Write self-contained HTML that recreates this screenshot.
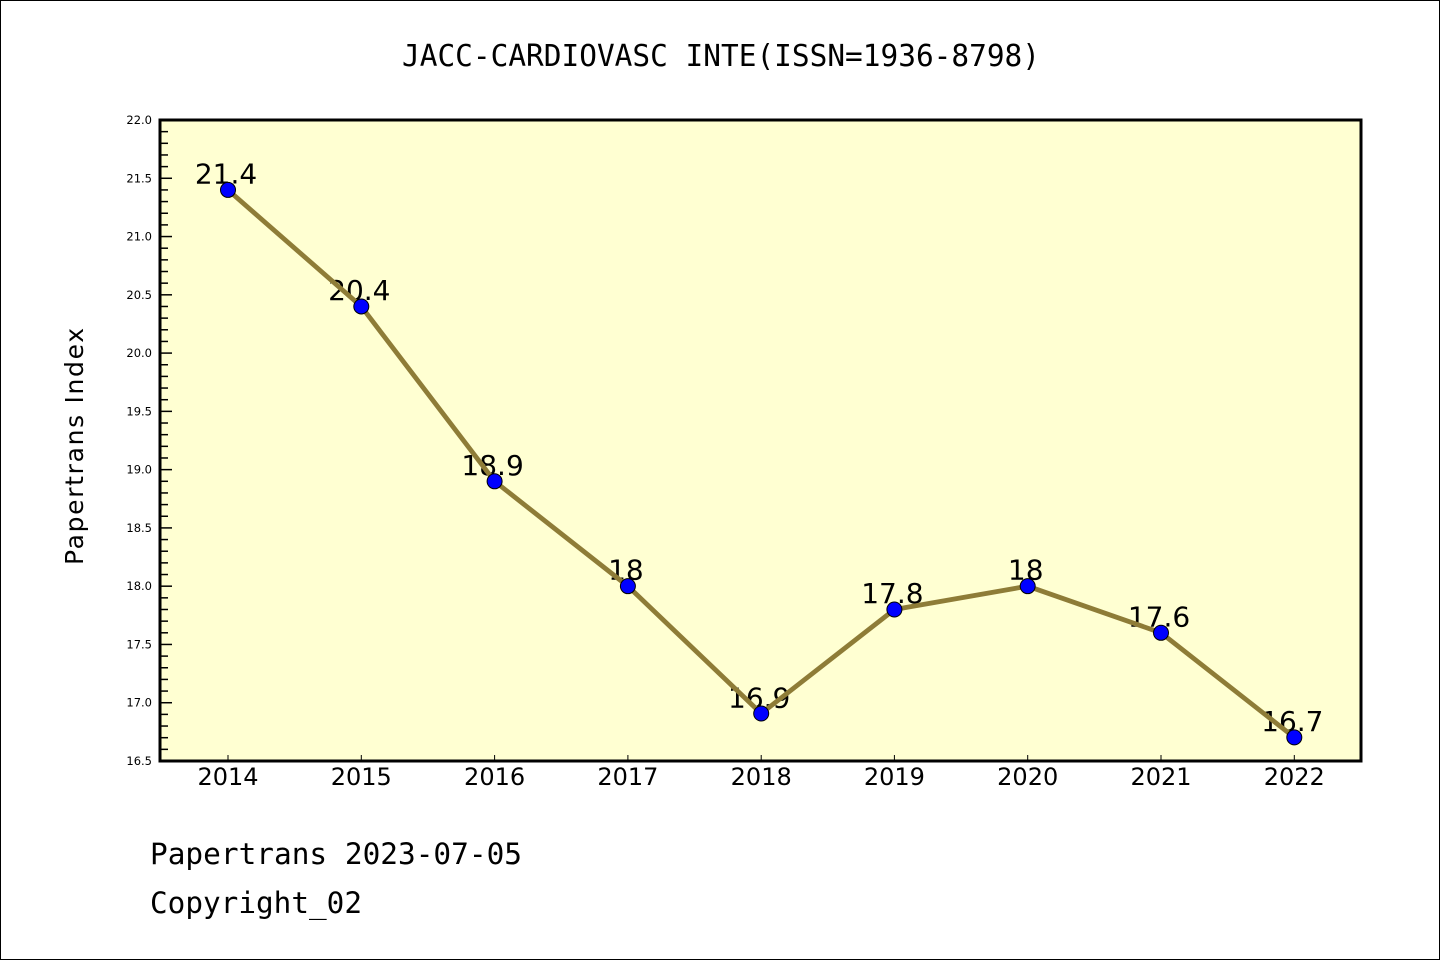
<!DOCTYPE html>
<html>
<head>
<meta charset="utf-8">
<style>
  html, body { margin: 0; padding: 0; background: #ffffff; }
  svg { display: block; }
</style>
</head>
<body>
<svg width="1440" height="960" viewBox="0 0 1440 960" xmlns="http://www.w3.org/2000/svg">
  <rect x="0.5" y="0.5" width="1439" height="959" fill="#ffffff" stroke="#000000" stroke-width="1"/>

  <!-- Title -->
  <text x="402" y="66" font-family="'DejaVu Sans Mono', 'Liberation Mono', monospace" font-size="30" fill="#000" textLength="638" lengthAdjust="spacingAndGlyphs">JACC-CARDIOVASC INTE(ISSN=1936-8798)</text>

  <!-- Plot area -->
  <rect x="160" y="120" width="1201" height="641" fill="#ffffd2"/>

  <!-- Y ticks -->
  <g stroke="#000" stroke-width="1.5">
    <line x1="160" y1="120.0" x2="172" y2="120.0"/><line x1="160" y1="131.65" x2="168" y2="131.65"/><line x1="160" y1="143.31" x2="168" y2="143.31"/><line x1="160" y1="154.96" x2="168" y2="154.96"/><line x1="160" y1="166.62" x2="168" y2="166.62"/>
    <line x1="160" y1="178.27" x2="172" y2="178.27"/><line x1="160" y1="189.93" x2="168" y2="189.93"/><line x1="160" y1="201.58" x2="168" y2="201.58"/><line x1="160" y1="213.24" x2="168" y2="213.24"/><line x1="160" y1="224.89" x2="168" y2="224.89"/>
    <line x1="160" y1="236.55" x2="172" y2="236.55"/><line x1="160" y1="248.2" x2="168" y2="248.2"/><line x1="160" y1="259.85" x2="168" y2="259.85"/><line x1="160" y1="271.51" x2="168" y2="271.51"/><line x1="160" y1="283.16" x2="168" y2="283.16"/>
    <line x1="160" y1="294.82" x2="172" y2="294.82"/><line x1="160" y1="306.47" x2="168" y2="306.47"/><line x1="160" y1="318.13" x2="168" y2="318.13"/><line x1="160" y1="329.78" x2="168" y2="329.78"/><line x1="160" y1="341.44" x2="168" y2="341.44"/>
    <line x1="160" y1="353.09" x2="172" y2="353.09"/><line x1="160" y1="364.75" x2="168" y2="364.75"/><line x1="160" y1="376.4" x2="168" y2="376.4"/><line x1="160" y1="388.05" x2="168" y2="388.05"/><line x1="160" y1="399.71" x2="168" y2="399.71"/>
    <line x1="160" y1="411.36" x2="172" y2="411.36"/><line x1="160" y1="423.02" x2="168" y2="423.02"/><line x1="160" y1="434.67" x2="168" y2="434.67"/><line x1="160" y1="446.33" x2="168" y2="446.33"/><line x1="160" y1="457.98" x2="168" y2="457.98"/>
    <line x1="160" y1="469.64" x2="172" y2="469.64"/><line x1="160" y1="481.29" x2="168" y2="481.29"/><line x1="160" y1="492.95" x2="168" y2="492.95"/><line x1="160" y1="504.6" x2="168" y2="504.6"/><line x1="160" y1="516.25" x2="168" y2="516.25"/>
    <line x1="160" y1="527.91" x2="172" y2="527.91"/><line x1="160" y1="539.56" x2="168" y2="539.56"/><line x1="160" y1="551.22" x2="168" y2="551.22"/><line x1="160" y1="562.87" x2="168" y2="562.87"/><line x1="160" y1="574.53" x2="168" y2="574.53"/>
    <line x1="160" y1="586.18" x2="172" y2="586.18"/><line x1="160" y1="597.84" x2="168" y2="597.84"/><line x1="160" y1="609.49" x2="168" y2="609.49"/><line x1="160" y1="621.15" x2="168" y2="621.15"/><line x1="160" y1="632.8" x2="168" y2="632.8"/>
    <line x1="160" y1="644.45" x2="172" y2="644.45"/><line x1="160" y1="656.11" x2="168" y2="656.11"/><line x1="160" y1="667.76" x2="168" y2="667.76"/><line x1="160" y1="679.42" x2="168" y2="679.42"/><line x1="160" y1="691.07" x2="168" y2="691.07"/>
    <line x1="160" y1="702.73" x2="172" y2="702.73"/><line x1="160" y1="714.38" x2="168" y2="714.38"/><line x1="160" y1="726.04" x2="168" y2="726.04"/><line x1="160" y1="737.69" x2="168" y2="737.69"/><line x1="160" y1="749.35" x2="168" y2="749.35"/>
  </g>

  <!-- X ticks -->
  <g stroke="#000" stroke-width="1">
    <line x1="228" y1="761" x2="228" y2="755"/>
    <line x1="361.3" y1="761" x2="361.3" y2="755"/>
    <line x1="494.6" y1="761" x2="494.6" y2="755"/>
    <line x1="627.9" y1="761" x2="627.9" y2="755"/>
    <line x1="761.2" y1="761" x2="761.2" y2="755"/>
    <line x1="894.4" y1="761" x2="894.4" y2="755"/>
    <line x1="1027.7" y1="761" x2="1027.7" y2="755"/>
    <line x1="1161" y1="761" x2="1161" y2="755"/>
    <line x1="1294.3" y1="761" x2="1294.3" y2="755"/>
  </g>

  <!-- Y tick labels -->
  <g font-family="'DejaVu Sans', 'Liberation Sans', sans-serif" font-size="11.5" fill="#000" text-anchor="end" dominant-baseline="central">
    <text x="152" y="120">22.0</text>
    <text x="152" y="178.27">21.5</text>
    <text x="152" y="236.55">21.0</text>
    <text x="152" y="294.82">20.5</text>
    <text x="152" y="353.09">20.0</text>
    <text x="152" y="411.36">19.5</text>
    <text x="152" y="469.64">19.0</text>
    <text x="152" y="527.91">18.5</text>
    <text x="152" y="586.18">18.0</text>
    <text x="152" y="644.45">17.5</text>
    <text x="152" y="702.73">17.0</text>
    <text x="152" y="761">16.5</text>
  </g>

  <!-- X tick labels -->
  <g font-family="'DejaVu Sans', 'Liberation Sans', sans-serif" font-size="24" fill="#000" text-anchor="middle">
    <text x="228" y="785">2014</text>
    <text x="361.3" y="785">2015</text>
    <text x="494.6" y="785">2016</text>
    <text x="627.9" y="785">2017</text>
    <text x="761.2" y="785">2018</text>
    <text x="894.4" y="785">2019</text>
    <text x="1027.7" y="785">2020</text>
    <text x="1161" y="785">2021</text>
    <text x="1294.3" y="785">2022</text>
  </g>

  <!-- Data labels -->
  <g font-family="'DejaVu Sans', 'Liberation Sans', sans-serif" font-size="28" fill="#000" text-anchor="middle">
    <text x="226" y="183.4">21.4</text>
    <text x="359.3" y="300">20.4</text>
    <text x="492.6" y="474.8">18.9</text>
    <text x="625.9" y="579.7">18</text>
    <text x="759.2" y="707.4">16.9</text>
    <text x="892.4" y="602.8">17.8</text>
    <text x="1025.7" y="579.7">18</text>
    <text x="1159" y="626.4">17.6</text>
    <text x="1292.3" y="731.2">16.7</text>
  </g>

  <!-- Series line -->
  <polyline fill="none" stroke="#8e7c37" stroke-width="4.8" stroke-linejoin="round"
    points="228,189.93 361.3,306.47 494.6,481.29 627.9,586.18 761.2,713.5 894.4,609.49 1027.7,586.18 1161,632.8 1294.3,737.4"/>

  <!-- Markers -->
  <g fill="#0000ff" stroke="#000" stroke-width="1">
    <circle cx="228" cy="189.93" r="7.5"/>
    <circle cx="361.3" cy="306.47" r="7.5"/>
    <circle cx="494.6" cy="481.29" r="7.5"/>
    <circle cx="627.9" cy="586.18" r="7.5"/>
    <circle cx="761.2" cy="713.5" r="7.5"/>
    <circle cx="894.4" cy="609.49" r="7.5"/>
    <circle cx="1027.7" cy="586.18" r="7.5"/>
    <circle cx="1161" cy="632.8" r="7.5"/>
    <circle cx="1294.3" cy="737.4" r="7.5"/>
  </g>

  <!-- Plot frame -->
  <rect x="160" y="120" width="1201" height="641" fill="none" stroke="#000" stroke-width="3"/>

  <!-- Y axis label -->
  <text transform="translate(83,446.5) rotate(-90)" x="0" y="0" text-anchor="middle" font-family="'DejaVu Sans', 'Liberation Sans', sans-serif" font-size="25" fill="#000" textLength="237" lengthAdjust="spacing">Papertrans Index</text>

  <!-- Footer -->
  <text x="150" y="864" font-family="'DejaVu Sans Mono', 'Liberation Mono', monospace" font-size="29" fill="#000" textLength="372" lengthAdjust="spacingAndGlyphs">Papertrans 2023-07-05</text>
  <text x="150" y="913" font-family="'DejaVu Sans Mono', 'Liberation Mono', monospace" font-size="29" fill="#000" textLength="212" lengthAdjust="spacingAndGlyphs">Copyright_02</text>
</svg>
</body>
</html>
